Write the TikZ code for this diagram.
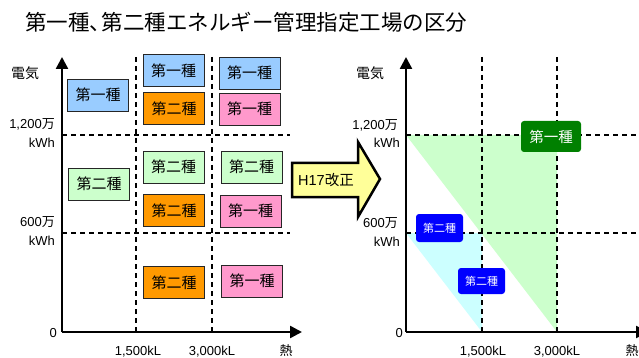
\documentclass[tikz,border=0pt]{standalone}
\usepackage{fontspec}
\setmainfont{Noto Sans CJK JP}
\newfontfamily\lat{Liberation Sans}
\usetikzlibrary{arrows.meta}
\definecolor{bbox}{RGB}{153,204,255}
\definecolor{obox}{RGB}{255,153,0}
\definecolor{pbox}{RGB}{255,153,204}
\definecolor{gbox}{RGB}{204,255,204}
\definecolor{cyreg}{RGB}{204,255,255}
\definecolor{dkgreen}{RGB}{0,128,0}
\definecolor{ablue}{RGB}{0,0,255}
\definecolor{ayellow}{RGB}{255,255,153}
\begin{document}
\begin{tikzpicture}[x=1pt,y=-1pt,
  cell/.style={draw=black!85,line width=0.8pt,minimum width=61pt,minimum height=32pt,inner sep=0pt,font=\fontsize{15}{16}\selectfont},
  tag/.style={rounded corners=3pt,inner sep=0pt,text=white},
  axis/.style={line width=2.5pt,-{Triangle[width=12pt,length=12pt]}},
  grid/.style={dashed,dash pattern=on 5pt off 4pt,line width=1.8pt},
  lab/.style={font=\fontsize{13}{14}\selectfont,inner sep=0pt},
]
\useasboundingbox (0,0) rectangle (639,358);
\fill[white] (0,0) rectangle (639,358);
% title
\node[anchor=west,inner sep=0pt,font=\fontsize{21.5}{24}\selectfont] (title) at (25,22) {第一種、\hspace{-0.45em}第二種エネルギー管理指定工場の区分};

% ---------- left chart ----------
\coordinate (lo) at (62,332);
\coordinate (ltop) at (62,57);
\coordinate (lright) at (302,332);
\coordinate (lv1t) at (136,57); \coordinate (lv1b) at (136,332);
\coordinate (lv2t) at (212,57); \coordinate (lv2b) at (212,332);
\coordinate (lh1l) at (62,135); \coordinate (lh1r) at (290,135);
\coordinate (lh2l) at (62,233); \coordinate (lh2r) at (290,233);
\draw[grid] (lv1t) -- (lv1b);
\draw[grid] (lv2t) -- (lv2b);
\draw[grid] (lh1l) -- (lh1r);
\draw[grid] (lh2l) -- (lh2r);
\draw[axis] (lo) -- (ltop);
\draw[axis] (lo) -- (lright);

\node[cell,fill=bbox] (a1) at (98,95) {第一種};
\node[cell,fill=bbox] (b1) at (173.5,70.5) {第一種};
\node[cell,fill=obox] (b2) at (174,108.5) {第二種};
\node[cell,fill=bbox] (c1) at (249.5,73) {第一種};
\node[cell,fill=pbox] (c2) at (249.5,109) {第一種};
\node[cell,fill=gbox] (a2) at (99,184) {第二種};
\node[cell,fill=gbox] (b3) at (173.5,167) {第二種};
\node[cell,fill=gbox] (c3) at (251.5,167) {第二種};
\node[cell,fill=obox] (b4) at (174,210.5) {第二種};
\node[cell,fill=pbox] (c4) at (250.5,211) {第一種};
\node[cell,fill=obox] (b5) at (174,282.5) {第二種};
\node[cell,fill=pbox] (c5) at (252,281) {第一種};

\node[lab,font=\fontsize{14}{15}\selectfont] (le) at (25,73) {電気};
\node[lab,anchor=east] (l1200) at (55,124) {{\lat 1,200}万};
\node[lab,anchor=east] (lkwh1) at (55,143) {\lat kWh};
\node[lab,anchor=east] (l600) at (55,222) {{\lat 600}万};
\node[lab,anchor=east] (lkwh2) at (55,241) {\lat kWh};
\node[lab,anchor=east] (l0) at (57,333) {\lat 0};
\node[lab] (l1500) at (138,352) {\lat 1,500kL};
\node[lab] (l3000) at (212,352) {\lat 3,000kL};
\node[lab] (lnetsu) at (286,351) {熱};

% ---------- arrow ----------
\draw[line width=2.5pt,fill=ayellow,line join=miter]
  (292,163) -- (358,163) -- (358,142) -- (380,179) -- (358,217) -- (358,197) -- (292,197) -- cycle;
\node[font=\fontsize{14.5}{16}\selectfont,inner sep=0pt] (kaisei) at (326,180) {{\lat H17}改正};

% ---------- right chart ----------
\coordinate (ro) at (406,332);
\coordinate (rtop) at (406,57);
\coordinate (rright) at (648,332);
\fill[gbox] (406,135) -- (557,135) -- (557,332) -- cycle;
\fill[cyreg] (406,233) -- (482,233) -- (482,332) -- cycle;
\coordinate (rv1t) at (482,57); \coordinate (rv1b) at (482,332);
\coordinate (rv2t) at (557,57); \coordinate (rv2b) at (557,332);
\coordinate (rh1l) at (406,135); \coordinate (rh1r) at (645,135);
\coordinate (rh2l) at (406,233); \coordinate (rh2r) at (645,233);
\draw[grid] (rv1t) -- (rv1b);
\draw[grid] (rv2t) -- (rv2b);
\draw[grid] (rh1l) -- (rh1r);
\draw[grid] (rh2l) -- (rh2r);
\draw[axis] (ro) -- (rtop);
\draw[axis] (ro) -- (rright);

\node[tag,fill=dkgreen,minimum width=60pt,minimum height=31pt,font=\fontsize{14.5}{16}\selectfont] (g1) at (551,136.5) {第一種};
\node[tag,fill=ablue,minimum width=47pt,minimum height=28pt,font=\fontsize{11}{12}\selectfont] (u1) at (439.5,228) {第二種};
\node[tag,fill=ablue,minimum width=47pt,minimum height=26pt,font=\fontsize{11}{12}\selectfont] (u2) at (481.5,281) {第二種};

\node[lab,font=\fontsize{14}{15}\selectfont] (re) at (370,73) {電気};
\node[lab,anchor=east] (r1200) at (398,125) {{\lat 1,200}万};
\node[lab,anchor=east] (rkwh1) at (400,143) {\lat kWh};
\node[lab,anchor=east] (r600) at (398,223) {{\lat 600}万};
\node[lab,anchor=east] (rkwh2) at (400,242) {\lat kWh};
\node[lab,anchor=east] (r0) at (403,333) {\lat 0};
\node[lab] (r1500) at (483,352) {\lat 1,500kL};
\node[lab] (r3000) at (557,352) {\lat 3,000kL};
\node[lab] (rnetsu) at (632,351) {熱};
\end{tikzpicture}
\end{document}
